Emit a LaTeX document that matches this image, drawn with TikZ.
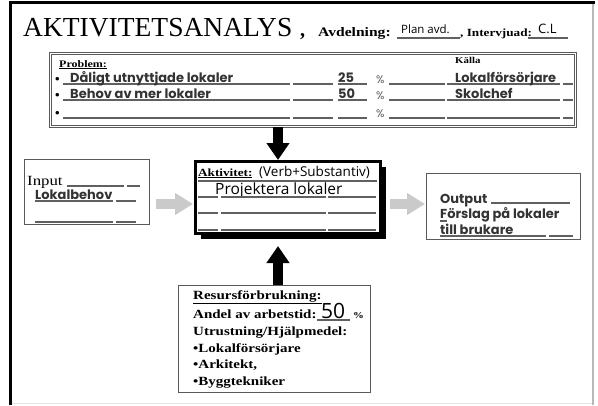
\documentclass[tikz,border=0pt]{standalone}
\usepackage{fontspec}
\setmainfont{Liberation Serif}
\newfontfamily\wserif[FakeStretch=1.2]{Liberation Serif}
\newfontfamily\hand{Open Sans}
\newfontfamily\school{Poppins}
\usetikzlibrary{arrows.meta,shadows}
\definecolor{boxgray}{HTML}{5A5A5A}
\definecolor{linegray}{HTML}{606060}
\definecolor{arrowgray}{HTML}{CACACA}
\definecolor{framegray}{HTML}{B8B8B8}
\tikzset{
  formbox/.style={draw=boxgray, line width=1pt, inner sep=0pt, anchor=north west, fill=white},
  formline/.style={draw=linegray, line width=1.2pt},
  lbl/.style={inner sep=0pt, anchor=base west},
  heading/.style={lbl, font=\wserif\bfseries\fontsize{10}{10}\selectfont},
  entry/.style={lbl, text=black!80, font=\school\bfseries\fontsize{13}{13}\selectfont},
  blockarrow/.style={line width=10pt, -{Triangle[width=22pt,length=17pt]}},
  grayarrow/.style={draw=arrowgray, line width=10pt, -{Triangle[width=21pt,length=18pt]}}
}
\begin{document}
\begin{tikzpicture}[x=1pt,y=-1pt]
\useasboundingbox (0,0) rectangle (598,405);

% page frame
\draw[line width=3pt] (10,405) -- (10,2.5) -- (595,2.5);
\draw[framegray, line width=2pt] (593,4) -- (593,405);
\draw[black!10, line width=0.8pt] (12,403.5) -- (592,403.5);

% title line
\node[lbl, font=\fontsize{27.5}{27.5}\selectfont] (title) at (23,36) {AKTIVITETSANALYS};
\node[lbl, font=\bfseries\fontsize{20}{20}\selectfont] (comma) at (300,36) {,};
\node[lbl, font=\wserif\bfseries\fontsize{13}{13}\selectfont] (avd) at (318,36) {Avdelning:};
\node[lbl, font=\hand\fontsize{11.5}{11.5}\selectfont] (avdval) at (401,33) {Plan avd.};
\draw[formline] (397,38) -- (460,38);
\node[lbl, font=\wserif\bfseries\fontsize{11}{11}\selectfont] (intv) at (460,36) {, Intervjuad:};
\node[lbl, font=\hand\fontsize{13}{13}\selectfont] (intvval) at (538,33) {C.L};
\draw[formline] (528,38) -- (568,38);

% problem box
\node[formbox, double=white, double distance=1pt, minimum width=525pt, minimum height=73pt] (prob) at (50,53) {};
\node[heading] (probh) at (59,67) {\underline{Problem:}};
\node[heading, font=\wserif\bfseries\fontsize{9}{9}\selectfont] (kalla) at (455,63) {Källa};
\foreach \y in {84,100,118}{
  \node[lbl, font=\bfseries\fontsize{13}{13}\selectfont] at (55,\y-1) {•};
  \foreach \a/\b in {63/290,293/333,338/367,389/445,447/560,563/573}
    \draw[formline] (\a,\y) -- (\b,\y);
  \node[lbl, text=boxgray, font=\school\fontsize{11}{11}\selectfont] at (376,\y-1) {\%};
}
\node[entry] (p1) at (70,82) {Dåligt utnyttjade lokaler};
\node[entry] (p1v) at (338,82) {25};
\node[entry] (p1s) at (455,82) {Lokalförsörjare};
\node[entry] (p2) at (70,98) {Behov av mer lokaler};
\node[entry] (p2v) at (338,98) {50};
\node[entry] (p2s) at (455,98) {Skolchef};

% activity box
\node[formbox, draw=black, line width=3pt, minimum width=185pt, minimum height=72pt,
      drop shadow={shadow xshift=5pt, shadow yshift=-5pt, fill=black, opacity=1}] (akt) at (194,160) {};
\node[lbl, font=\wserif\bfseries\fontsize{11}{11}\selectfont] (akth) at (198,176) {\underline{Aktivitet:}};
\node[lbl, font=\hand\fontsize{13.5}{13.5}\selectfont] (aktsub) at (259,176) {(Verb+Substantiv)};
\draw[formline] (198,181) -- (377,181);
\node[lbl, font=\hand\fontsize{15.5}{15.5}\selectfont] (aktval) at (215,194) {Projektera lokaler};
\foreach \y in {197,213,230}
  \foreach \a/\b in {198/218,221/326,328/376}
    \draw[formline] (\a,\y) -- (\b,\y);

% input box
\node[formbox, minimum width=125pt, minimum height=65pt] (inp) at (24,159) {};
\node[lbl, font=\wserif\fontsize{14}{14}\selectfont] (inph) at (27,185) {Input};
\foreach \a/\b in {67/124,127/140} \draw[formline] (\a,186) -- (\b,186);
\node[entry] (inpval) at (35,199) {Lokalbehov};
\foreach \y in {201,222}
  \foreach \a/\b in {35/113,116/136} \draw[formline] (\a,\y) -- (\b,\y);

% output box
\node[formbox, minimum width=154pt, minimum height=66pt] (out) at (426,173) {};
\node[entry] (outh) at (440,203) {Output};
\draw[formline] (491,203) -- (570,203);
\node[entry] (outv1) at (440,218) {Förslag på lokaler};
\draw[formline] (440,221) -- (447,221);
\node[entry] (outv2) at (440,234) {till brukare};
\foreach \a/\b in {440/546,549/573} \draw[formline] (\a,236) -- (\b,236);

% resource box
\node[formbox, minimum width=192pt, minimum height=107pt] (res) at (178,285) {};
\begin{scope}[every node/.style={lbl, font=\wserif\bfseries\fontsize{12.5}{12.5}\selectfont}]
  \node (r1) at (193,299) {\underline{Resursförbrukning:}};
  \node (r2) at (193,318) {Andel av arbetstid:};
  \node (r3) at (193,335) {Utrustning/Hjälpmedel:};
  \node (r4) at (193,352) {•Lokalförsörjare};
  \node (r5) at (193,368) {•Arkitekt,};
  \node (r6) at (193,385) {•Byggtekniker};
\end{scope}
\node[lbl, font=\hand\fontsize{21}{21}\selectfont] (resval) at (321,318) {50};
\draw[formline] (317,320) -- (350,320);
\node[lbl, font=\wserif\bfseries\fontsize{9}{9}\selectfont] (respct) at (353,318) {\%};

% connectors
\coordinate (col) at (278,0);
\coordinate (row) at (0,204);
\draw[blockarrow] (col |- prob.south) -- (col |- akt.north);
\draw[blockarrow, shorten >=11pt] (col |- res.north) -- (col |- akt.south);
\draw[grayarrow, shorten <=6pt, shorten >=1pt] (inp.east |- row) -- (akt.west |- row);
\draw[grayarrow, shorten <=8pt, shorten >=1pt] (akt.east |- row) -- (out.west |- row);
\end{tikzpicture}
\end{document}
